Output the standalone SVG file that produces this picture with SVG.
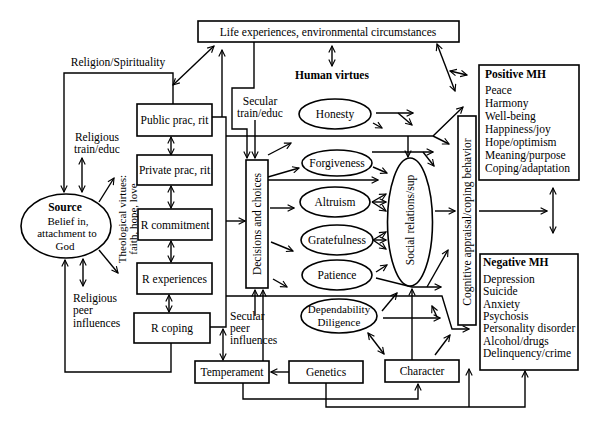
<svg xmlns="http://www.w3.org/2000/svg" width="600" height="427" viewBox="0 0 600 427">
<style>
.ln{fill:none;stroke:#000;stroke-width:1.4}
.bx{fill:#fff;stroke:#000;stroke-width:1.6}
text{font-family:"Liberation Serif",serif;font-size:11.5px;fill:#000}
.c{text-anchor:middle}
.b{font-weight:bold}
.s{font-size:11px}
</style>
<defs>
<marker id="ah" viewBox="0 0 10 10" refX="9" refY="5" markerWidth="8" markerHeight="8" markerUnits="userSpaceOnUse" orient="auto-start-reverse">
<path d="M1,1 L9,5 L1,9" fill="none" stroke="#000" stroke-width="1.4"/>
</marker>
</defs>
<rect width="600" height="427" fill="#fff"/>
<g id="connectors">
<path class="ln" d="M173,104 V73 H64 V192" marker-end="url(#ah)"/>
<path class="ln" d="M173,85 L214,46" marker-start="url(#ah)" marker-end="url(#ah)"/>
<path class="ln" d="M212,117 H226 V327 H210"/>
<path class="ln" d="M222,117 V50" marker-end="url(#ah)"/>
<path class="ln" d="M226,221 H245" marker-end="url(#ah)"/>
<path class="ln" d="M226,136 H433 L463,107" marker-end="url(#ah)"/>
<path class="ln" d="M433,136 L449,144" marker-end="url(#ah)"/>
<path class="ln" d="M408,136 V157" marker-end="url(#ah)"/>
<path class="ln" d="M226,296 H442 L452,329 H469" marker-end="url(#ah)"/>
<path class="ln" d="M254,42 V88 H232 V129 H247 V158" marker-end="url(#ah)"/>
<path class="ln" d="M255,120 V158" marker-end="url(#ah)"/>
<path class="ln" d="M332,46 V66" marker-start="url(#ah)" marker-end="url(#ah)"/>
<path class="ln" d="M437,44 L455,91" marker-start="url(#ah)" marker-end="url(#ah)"/>
<path class="ln" d="M450,71 L467,75" marker-start="url(#ah)" marker-end="url(#ah)"/>
<path class="ln" d="M268,155 L291,143" marker-end="url(#ah)"/>
<path class="ln" d="M268,177 L299,168" marker-end="url(#ah)"/>
<path class="ln" d="M268,180 H378" marker-end="url(#ah)"/>
<path class="ln" d="M270,208 H294" marker-end="url(#ah)"/>
<path class="ln" d="M271,242 L293,251" marker-end="url(#ah)"/>
<path class="ln" d="M273,279 L287,287" marker-end="url(#ah)"/>
<path class="ln" d="M376,113 H413" marker-end="url(#ah)"/>
<path class="ln" d="M398,113 L412,125" marker-end="url(#ah)"/>
<path class="ln" d="M373,123 L382,128" marker-end="url(#ah)"/>
<path class="ln" d="M372,152 H433" marker-end="url(#ah)"/>
<path class="ln" d="M423,152 L434,166" marker-end="url(#ah)"/>
<path class="ln" d="M373,167 L387,173" marker-end="url(#ah)"/>
<path class="ln" d="M372,202 L386,194" marker-end="url(#ah)"/>
<path class="ln" d="M372,202 H386" marker-end="url(#ah)"/>
<path class="ln" d="M372,202 L386,211" marker-end="url(#ah)"/>
<path class="ln" d="M373,240 L386,232" marker-end="url(#ah)"/>
<path class="ln" d="M373,240 H386" marker-end="url(#ah)"/>
<path class="ln" d="M373,240 L386,249" marker-end="url(#ah)"/>
<path class="ln" d="M376,272 L387,265" marker-end="url(#ah)"/>
<path class="ln" d="M376,278 L412,287 H441" marker-end="url(#ah)"/>
<path class="ln" d="M427,287 L448,250" marker-end="url(#ah)"/>
<path class="ln" d="M435,211 H455" marker-end="url(#ah)"/>
<path class="ln" d="M479,211 H547" marker-end="url(#ah)"/>
<path class="ln" d="M553,188 V233" marker-start="url(#ah)" marker-end="url(#ah)"/>
<path class="ln" d="M82,158 V192" marker-start="url(#ah)" marker-end="url(#ah)"/>
<path class="ln" d="M83,259 V286" marker-start="url(#ah)" marker-end="url(#ah)"/>
<path class="ln" d="M99,202 L114,178" marker-end="url(#ah)"/>
<path class="ln" d="M99,250 L118,273" marker-end="url(#ah)"/>
<path class="ln" d="M171,137 V155" marker-start="url(#ah)" marker-end="url(#ah)"/>
<path class="ln" d="M171,186 V208" marker-start="url(#ah)" marker-end="url(#ah)"/>
<path class="ln" d="M171,241 V262" marker-start="url(#ah)" marker-end="url(#ah)"/>
<path class="ln" d="M169,295 V312" marker-start="url(#ah)" marker-end="url(#ah)"/>
<path class="ln" d="M171,343 V372 H65 V260" marker-end="url(#ah)"/>
<path class="ln" d="M223,329 V360" marker-start="url(#ah)" marker-end="url(#ah)"/>
<path class="ln" d="M263,361 V290" marker-end="url(#ah)"/>
<path class="ln" d="M255,316 V290" marker-end="url(#ah)"/>
<path class="ln" d="M289,372 H271" marker-end="url(#ah)"/>
<path class="ln" d="M243,383 V399 H418 V384" marker-end="url(#ah)"/>
<path class="ln" d="M326,383 V407 H525 V371" marker-end="url(#ah)"/>
<path class="ln" d="M469,407 V369" marker-end="url(#ah)"/>
<path class="ln" d="M412,360 V289" marker-end="url(#ah)"/>
<path class="ln" d="M435,355 L450,335" marker-end="url(#ah)"/>
<path class="ln" d="M368,333 L384,354" marker-start="url(#ah)" marker-end="url(#ah)"/>
<path class="ln" d="M382,311 L397,293" marker-end="url(#ah)"/>
<path class="ln" d="M383,318 H440" marker-end="url(#ah)"/>
<path class="ln" d="M437,317 L432,306" marker-end="url(#ah)"/>
</g>
<g id="life">
<rect class="bx" x="198" y="21" width="261" height="21"/>
<text class="c" x="328" y="36">Life experiences, environmental circumstances</text>
</g>
<g id="labels">
<text class="c" x="118" y="66">Religion/Spirituality</text>
<text class="c" x="97" y="141">Religious</text>
<text class="c" x="97" y="153">train/educ</text>
<text x="73" y="302">Religious</text>
<text x="73" y="314">peer</text>
<text x="73" y="327">influences</text>
<text class="c b" x="332" y="79">Human virtues</text>
<text class="c" x="260" y="105">Secular</text>
<text class="c" x="260" y="117">train/educ</text>
<text x="230" y="320">Secular</text>
<text x="230" y="332">peer</text>
<text x="230" y="344">influences</text>
<text class="c s" transform="translate(126,219) rotate(-90)">Theological virtues:</text>
<text class="c s" transform="translate(137,219) rotate(-90)">faith, hope, love</text>
</g>
<g id="source">
<ellipse class="bx" cx="66" cy="226" rx="45" ry="32"/>
<text class="c b" x="65" y="211">Source</text>
<text class="c s" x="68" y="225">Belief in,</text>
<text class="c s" x="67" y="237">attachment to</text>
<text class="c s" x="65" y="250">God</text>
</g>
<g id="public"><rect class="bx" x="137" y="104" width="75" height="32"/><text class="c" x="174.5" y="124">Public prac, rit</text></g>
<g id="private"><rect class="bx" x="137" y="155" width="75" height="30"/><text class="c" x="174.5" y="174">Private prac, rit</text></g>
<g id="commitment"><rect class="bx" x="138" y="209" width="74" height="31"/><text class="c" x="175" y="229">R commitment</text></g>
<g id="experiences"><rect class="bx" x="137" y="263" width="75" height="31"/><text class="c" x="174.5" y="283">R experiences</text></g>
<g id="coping"><rect class="bx" x="134" y="313" width="76" height="30"/><text class="c" x="172" y="332">R coping</text></g>
<g id="decisions"><rect class="bx" x="246" y="160" width="22" height="128"/><text class="c" transform="translate(261,224) rotate(-90)">Decisions and choices</text></g>
<g id="honesty"><ellipse class="bx" cx="335" cy="114" rx="36" ry="15"/><text class="c" x="335" y="118">Honesty</text></g>
<g id="forgiveness"><ellipse class="bx" cx="337" cy="163" rx="35" ry="13"/><text class="c" x="337" y="167">Forgiveness</text></g>
<g id="altruism"><ellipse class="bx" cx="335" cy="202" rx="35" ry="15"/><text class="c" x="335" y="206">Altruism</text></g>
<g id="gratefulness"><ellipse class="bx" cx="337" cy="240" rx="36" ry="15"/><text class="c" x="337" y="244">Gratefulness</text></g>
<g id="patience"><ellipse class="bx" cx="337" cy="275" rx="35" ry="15"/><text class="c" x="337" y="279">Patience</text></g>
<g id="dependability"><ellipse class="bx" cx="339" cy="316" rx="38" ry="17"/><text class="c s" x="339" y="313">Dependability</text><text class="c s" x="339" y="326">Diligence</text></g>
<g id="social"><ellipse class="bx" cx="410" cy="222" rx="22.5" ry="64"/><text class="c" transform="translate(414,220) rotate(-90)">Social relations/sup</text></g>
<g id="cognitive"><rect class="bx" x="458" y="116" width="18" height="209"/><text class="c" transform="translate(471,222) rotate(-90)">Cognitive appraisal/coping behavior</text></g>
<g id="positive">
<rect class="bx" x="479" y="65" width="100" height="115"/>
<text class="b" x="485" y="78">Positive MH</text>
<text x="485" y="94">Peace</text>
<text x="485" y="107">Harmony</text>
<text x="485" y="120">Well-being</text>
<text x="485" y="133">Happiness/joy</text>
<text x="485" y="146">Hope/optimism</text>
<text x="485" y="159">Meaning/purpose</text>
<text x="485" y="172">Coping/adaptation</text>
</g>
<g id="negative">
<rect class="bx" x="480" y="254" width="98" height="116"/>
<text class="b" x="483" y="266">Negative MH</text>
<text x="483" y="283">Depression</text>
<text x="483" y="295">Suicide</text>
<text x="483" y="308">Anxiety</text>
<text x="483" y="320">Psychosis</text>
<text x="483" y="332">Personality disorder</text>
<text x="483" y="345">Alcohol/drugs</text>
<text x="483" y="357">Delinquency/crime</text>
</g>
<g id="temperament"><rect class="bx" x="195" y="361" width="74" height="22"/><text class="c" x="232" y="376">Temperament</text></g>
<g id="genetics"><rect class="bx" x="289" y="361" width="74" height="22"/><text class="c" x="326" y="376">Genetics</text></g>
<g id="character"><rect class="bx" x="385" y="360" width="74" height="22"/><text class="c" x="422" y="375">Character</text></g>
</svg>
